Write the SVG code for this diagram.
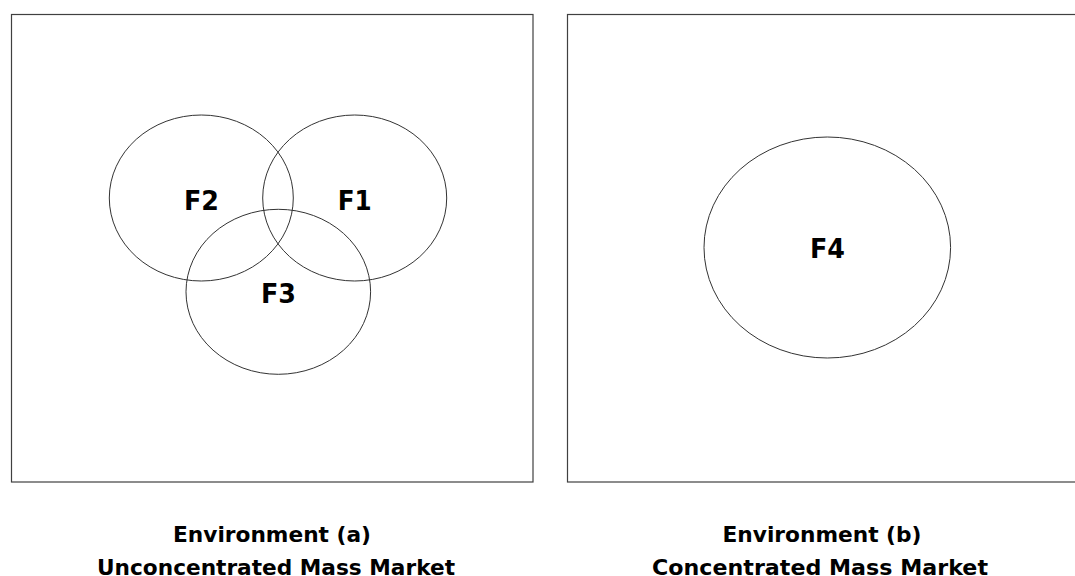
<svg xmlns="http://www.w3.org/2000/svg" width="1075" height="576" viewBox="0 0 1075 576">
<style>
.env{fill:#fff;stroke:#404040;stroke-width:1.2}
.c{fill:none;stroke:#333;stroke-width:1}
.lbl{font-family:"DejaVu Sans","Open Sans",sans-serif;font-weight:bold;fill:#000;text-anchor:middle}
.f{font-size:27px}
.cap{font-size:22px}
</style>
<rect width="1075" height="576" fill="#fff"/>
<g id="envA">
<rect class="env" x="11.5" y="14.5" width="521.5" height="467.5"/>
</g>
<g id="envB">
<rect class="env" x="567.5" y="14.5" width="520" height="467.5"/>
</g>
<g id="F2"><ellipse class="c" cx="201.3" cy="198" rx="92" ry="83"/><text class="lbl f" x="201.5" y="210" textLength="35" lengthAdjust="spacingAndGlyphs">F2</text></g>
<g id="F1"><ellipse class="c" cx="354.7" cy="198" rx="92" ry="83"/><text class="lbl f" x="354.7" y="210" textLength="34" lengthAdjust="spacingAndGlyphs">F1</text></g>
<g id="F3"><ellipse class="c" cx="278.3" cy="291.8" rx="92.3" ry="82.5"/><text class="lbl f" x="278.5" y="303" textLength="35" lengthAdjust="spacingAndGlyphs">F3</text></g>
<g id="F4"><ellipse class="c" cx="827.3" cy="247.5" rx="123.3" ry="110.5"/><text class="lbl f" x="827.5" y="258" textLength="35" lengthAdjust="spacingAndGlyphs">F4</text></g>
<g id="captions">
<text class="lbl cap" x="272" y="542" textLength="198" lengthAdjust="spacingAndGlyphs">Environment (a)</text>
<text class="lbl cap" x="276" y="575" textLength="358" lengthAdjust="spacingAndGlyphs">Unconcentrated Mass Market</text>
<text class="lbl cap" x="822" y="542" textLength="199" lengthAdjust="spacingAndGlyphs">Environment (b)</text>
<text class="lbl cap" x="820" y="575" textLength="336" lengthAdjust="spacingAndGlyphs">Concentrated Mass Market</text>
</g>
</svg>
